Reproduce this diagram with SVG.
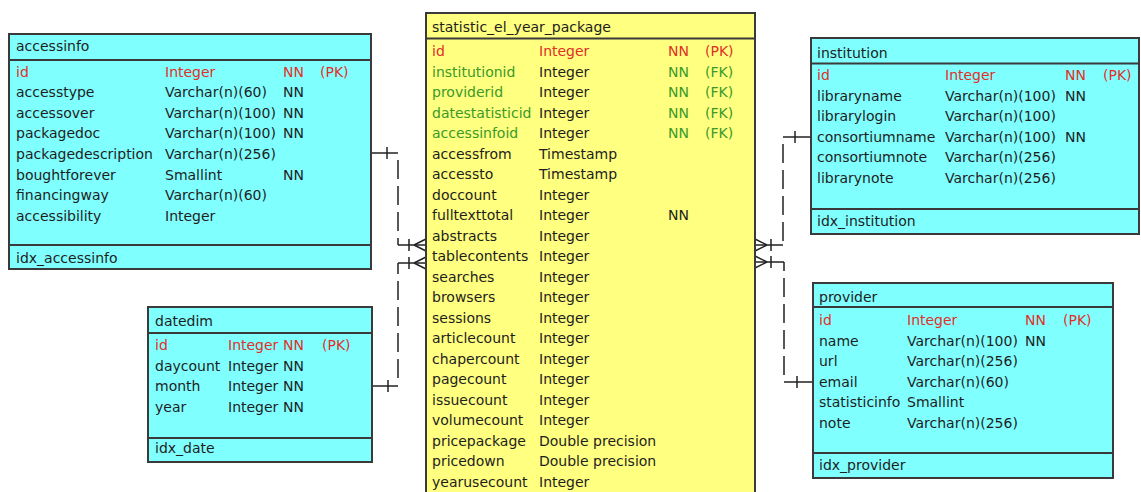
<svg xmlns="http://www.w3.org/2000/svg" width="1141" height="492" viewBox="0 0 1141 492">
  <style>
    text { font-family: "DejaVu Sans", "Liberation Sans", sans-serif; font-size: 14px; fill: #1e1e1e; }
    .box { stroke: #3a3a3a; stroke-width: 2; }
    .cyan { fill: #80ffff; }
    .yel { fill: #ffff80; }
    .div { stroke: #3a3a3a; stroke-width: 2; }
    .pk { fill: #e0302a; }
    .fk { fill: #3a9a2a; }
    .ln { stroke: #222; stroke-width: 1.5; fill: none; }
    .dash { stroke: #222; stroke-width: 1.5; fill: none; stroke-dasharray: 19 7; }
  </style>

  <!-- relationship lines -->
  <g id="connectors">
    <!-- accessinfo -> statistic_el_year_package -->
    <path class="ln" d="M371 153 H398"/>
    <path class="ln" d="M387 147 V159"/>
    <path class="dash" d="M398 160 V245"/>
    <path class="ln" d="M398 245 H426"/>
    <path class="ln" d="M409 239 V251 M414 245 L426 239 M414 245 L426 251"/>
    <!-- datedim -> statistic_el_year_package -->
    <path class="ln" d="M372 386 H398"/>
    <path class="ln" d="M388 380 V392"/>
    <path class="dash" d="M398 378 V263"/>
    <path class="ln" d="M398 263 H426"/>
    <path class="ln" d="M409 257 V269 M414 263 L426 257 M414 263 L426 269"/>
    <!-- institution -> statistic_el_year_package -->
    <path class="ln" d="M811 137 H783"/>
    <path class="ln" d="M795 131 V143"/>
    <path class="dash" d="M783 144 V245"/>
    <path class="ln" d="M783 245 H755"/>
    <path class="ln" d="M771 239 V251 M767 245 L755 239 M767 245 L755 251"/>
    <!-- provider -> statistic_el_year_package -->
    <path class="ln" d="M813 382 H784"/>
    <path class="ln" d="M797 376 V388"/>
    <path class="dash" d="M784 375 V262"/>
    <path class="ln" d="M784 262 H755"/>
    <path class="ln" d="M771 256 V268 M767 262 L755 256 M767 262 L755 268"/>
  </g>

  <!-- accessinfo table -->
  <g id="accessinfo">
    <rect class="box cyan" x="9" y="34" width="362" height="235"/>
    <line class="div" x1="9" y1="60" x2="371" y2="60"/>
    <line class="div" x1="9" y1="245" x2="371" y2="245"/>
    <text x="16" y="51">accessinfo</text>
    <text class="pk" x="16" y="76.5">id</text><text class="pk" x="165" y="76.5">Integer</text><text class="pk" x="283" y="76.5">NN</text><text class="pk" x="320" y="76.5">(PK)</text>
    <text x="16" y="97.1">accesstype</text><text x="165" y="97.1">Varchar(n)(60)</text><text x="283" y="97.1">NN</text>
    <text x="16" y="117.7">accessover</text><text x="165" y="117.7">Varchar(n)(100)</text><text x="283" y="117.7">NN</text>
    <text x="16" y="138.3">packagedoc</text><text x="165" y="138.3">Varchar(n)(100)</text><text x="283" y="138.3">NN</text>
    <text x="16" y="158.9">packagedescription</text><text x="165" y="158.9">Varchar(n)(256)</text>
    <text x="16" y="179.5">boughtforever</text><text x="165" y="179.5">Smallint</text><text x="283" y="179.5">NN</text>
    <text x="16" y="200.1">financingway</text><text x="165" y="200.1">Varchar(n)(60)</text>
    <text x="16" y="220.7">accessibility</text><text x="165" y="220.7">Integer</text>
    <text x="16" y="263">idx_accessinfo</text>
  </g>

  <!-- datedim table -->
  <g id="datedim">
    <rect class="box cyan" x="148" y="307" width="224" height="155"/>
    <line class="div" x1="148" y1="333" x2="372" y2="333"/>
    <line class="div" x1="148" y1="438" x2="372" y2="438"/>
    <text x="155" y="325.5">datedim</text>
    <text class="pk" x="155" y="350">id</text><text class="pk" x="228" y="350">Integer</text><text class="pk" x="283" y="350">NN</text><text class="pk" x="322" y="350">(PK)</text>
    <text x="155" y="370.6">daycount</text><text x="228" y="370.6">Integer</text><text x="283" y="370.6">NN</text>
    <text x="155" y="391.2">month</text><text x="228" y="391.2">Integer</text><text x="283" y="391.2">NN</text>
    <text x="155" y="411.8">year</text><text x="228" y="411.8">Integer</text><text x="283" y="411.8">NN</text>
    <text x="155" y="453">idx_date</text>
  </g>

  <!-- statistic_el_year_package table -->
  <g id="statistic_el_year_package">
    <rect class="box yel" x="426" y="13" width="329" height="490"/>
    <line class="div" x1="426" y1="38.5" x2="755" y2="38.5"/>
    <text x="432" y="31.5">statistic_el_year_package</text>
    <text class="pk" x="432" y="56">id</text><text class="pk" x="539" y="56">Integer</text><text class="pk" x="668" y="56">NN</text><text class="pk" x="705" y="56">(PK)</text>
    <text class="fk" x="432" y="76.5">institutionid</text><text x="539" y="76.5">Integer</text><text class="fk" x="668" y="76.5">NN</text><text class="fk" x="705" y="76.5">(FK)</text>
    <text class="fk" x="432" y="97">providerid</text><text x="539" y="97">Integer</text><text class="fk" x="668" y="97">NN</text><text class="fk" x="705" y="97">(FK)</text>
    <text class="fk" x="432" y="117.6">datestatisticid</text><text x="539" y="117.6">Integer</text><text class="fk" x="668" y="117.6">NN</text><text class="fk" x="705" y="117.6">(FK)</text>
    <text class="fk" x="432" y="138.1">accessinfoid</text><text x="539" y="138.1">Integer</text><text class="fk" x="668" y="138.1">NN</text><text class="fk" x="705" y="138.1">(FK)</text>
    <text x="432" y="158.6">accessfrom</text><text x="539" y="158.6">Timestamp</text>
    <text x="432" y="179.1">accessto</text><text x="539" y="179.1">Timestamp</text>
    <text x="432" y="199.6">doccount</text><text x="539" y="199.6">Integer</text>
    <text x="432" y="220.2">fulltexttotal</text><text x="539" y="220.2">Integer</text><text x="668" y="220.2">NN</text>
    <text x="432" y="240.7">abstracts</text><text x="539" y="240.7">Integer</text>
    <text x="432" y="261.2">tablecontents</text><text x="539" y="261.2">Integer</text>
    <text x="432" y="281.7">searches</text><text x="539" y="281.7">Integer</text>
    <text x="432" y="302.2">browsers</text><text x="539" y="302.2">Integer</text>
    <text x="432" y="322.8">sessions</text><text x="539" y="322.8">Integer</text>
    <text x="432" y="343.3">articlecount</text><text x="539" y="343.3">Integer</text>
    <text x="432" y="363.8">chapercount</text><text x="539" y="363.8">Integer</text>
    <text x="432" y="384.3">pagecount</text><text x="539" y="384.3">Integer</text>
    <text x="432" y="404.8">issuecount</text><text x="539" y="404.8">Integer</text>
    <text x="432" y="425.4">volumecount</text><text x="539" y="425.4">Integer</text>
    <text x="432" y="445.9">pricepackage</text><text x="539" y="445.9">Double precision</text>
    <text x="432" y="466.4">pricedown</text><text x="539" y="466.4">Double precision</text>
    <text x="432" y="487">yearusecount</text><text x="539" y="487">Integer</text>
  </g>

  <!-- institution table -->
  <g id="institution">
    <rect class="box cyan" x="811" y="38" width="328" height="196"/>
    <line class="div" x1="811" y1="63.5" x2="1139" y2="63.5"/>
    <line class="div" x1="811" y1="209" x2="1139" y2="209"/>
    <text x="817" y="57.5">institution</text>
    <text class="pk" x="817" y="80">id</text><text class="pk" x="945" y="80">Integer</text><text class="pk" x="1065" y="80">NN</text><text class="pk" x="1103" y="80">(PK)</text>
    <text x="817" y="100.6">libraryname</text><text x="945" y="100.6">Varchar(n)(100)</text><text x="1065" y="100.6">NN</text>
    <text x="817" y="121.2">librarylogin</text><text x="945" y="121.2">Varchar(n)(100)</text>
    <text x="817" y="141.8">consortiumname</text><text x="945" y="141.8">Varchar(n)(100)</text><text x="1065" y="141.8">NN</text>
    <text x="817" y="162.4">consortiumnote</text><text x="945" y="162.4">Varchar(n)(256)</text>
    <text x="817" y="183">librarynote</text><text x="945" y="183">Varchar(n)(256)</text>
    <text x="817" y="225.5">idx_institution</text>
  </g>

  <!-- provider table -->
  <g id="provider">
    <rect class="box cyan" x="813" y="283" width="300" height="195"/>
    <line class="div" x1="813" y1="307" x2="1113" y2="307"/>
    <line class="div" x1="813" y1="453" x2="1113" y2="453"/>
    <text x="819" y="301.5">provider</text>
    <text class="pk" x="819" y="325">id</text><text class="pk" x="907" y="325">Integer</text><text class="pk" x="1025" y="325">NN</text><text class="pk" x="1063" y="325">(PK)</text>
    <text x="819" y="345.6">name</text><text x="907" y="345.6">Varchar(n)(100)</text><text x="1025" y="345.6">NN</text>
    <text x="819" y="366.2">url</text><text x="907" y="366.2">Varchar(n)(256)</text>
    <text x="819" y="386.8">email</text><text x="907" y="386.8">Varchar(n)(60)</text>
    <text x="819" y="407.4">statisticinfo</text><text x="907" y="407.4">Smallint</text>
    <text x="819" y="428">note</text><text x="907" y="428">Varchar(n)(256)</text>
    <text x="819" y="470">idx_provider</text>
  </g>
</svg>
